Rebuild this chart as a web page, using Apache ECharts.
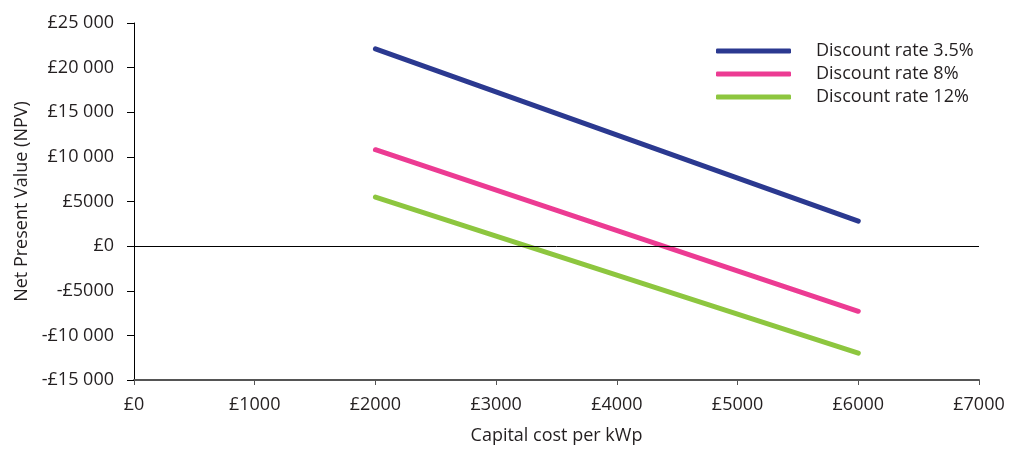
<!DOCTYPE html>
<html>
<head>
<meta charset="utf-8">
<script src="https://cdn.jsdelivr.net/npm/echarts@6/dist/echarts.min.js"></script>
<style>
  html, body { margin: 0; padding: 0; background: #fff; }
  #chart { width: 1015px; height: 450px; }
</style>
</head>
<body>
<div id="chart"></div>
<script>
// capital cost per kWp (x) and NPV for each discount rate
var capitalCost = [2000, 6000];
var npv35 = [22100, 2800];
var npv8 = [10800, -7300];
var npv12 = [5500, -12000];
var seriesNames = ['Discount rate 3.5%', 'Discount rate 8%', 'Discount rate 12%'];
var seriesColors = ['#2b3990', '#ec3b93', '#8dc63f'];

function pounds(v) {
  var sign = v < 0 ? '-' : '';
  var a = Math.abs(v);
  var s = String(a);
  if (a >= 10000) {
    s = s.slice(0, s.length - 3) + ' ' + s.slice(-3);
  }
  return sign + '£' + s;
}

function pairs(ys) {
  return capitalCost.map(function (x, i) { return [x, ys[i]]; });
}

var font = 'Open Sans';
var fs = 18;
var txt = '#231f20';

var chart = echarts.init(document.getElementById('chart'));

var option = {
  animation: false,
  grid: { left: 134, right: 36, top: 23, bottom: 70, outerBoundsMode: 'none', containLabel: false },
  legend: {
    orient: 'vertical',
    left: 711,
    top: 36,
    icon: 'roundRect',
    itemWidth: 75,
    itemHeight: 5,
    itemGap: 3,
    textStyle: { fontFamily: font, fontSize: fs, lineHeight: 20, color: txt, padding: [0, 0, 0, 20] },
    data: seriesNames
  },
  xAxis: {
    type: 'value',
    min: 0,
    max: 7000,
    interval: 1000,
    name: 'Capital cost per kWp',
    nameLocation: 'middle',
    nameGap: 47,
    nameTextStyle: { fontFamily: font, fontSize: fs, color: txt },
    axisLine: { onZero: false, lineStyle: { color: '#555', width: 2 } },
    axisTick: { show: true, length: 5, lineStyle: { color: '#555' } },
    axisLabel: { fontFamily: font, fontSize: fs, color: txt, margin: 16, formatter: pounds },
    splitLine: { show: false }
  },
  yAxis: {
    type: 'value',
    min: -15000,
    max: 25000,
    interval: 5000,
    name: 'Net Present Value (NPV)',
    nameLocation: 'middle',
    nameGap: 102,
    nameTextStyle: { fontFamily: font, fontSize: fs, color: txt },
    axisLine: { show: true, lineStyle: { color: '#000', width: 1 } },
    axisTick: { show: true, length: 7, lineStyle: { color: '#000' } },
    axisLabel: { fontFamily: font, fontSize: fs, color: txt, margin: 20, formatter: pounds },
    splitLine: { show: false }
  },
  series: [
    {
      name: seriesNames[0],
      type: 'line',
      data: pairs(npv35),
      symbol: 'none',
      lineStyle: { color: seriesColors[0], width: 5, cap: 'round' },
      itemStyle: { color: seriesColors[0] },
      markLine: {
        silent: true,
        symbol: 'none',
        label: { show: false },
        lineStyle: { color: '#000', width: 1, type: 'solid' },
        data: [{ yAxis: 0 }]
      }
    },
    {
      name: seriesNames[1],
      type: 'line',
      data: pairs(npv8),
      symbol: 'none',
      lineStyle: { color: seriesColors[1], width: 5, cap: 'round' },
      itemStyle: { color: seriesColors[1] }
    },
    {
      name: seriesNames[2],
      type: 'line',
      data: pairs(npv12),
      symbol: 'none',
      lineStyle: { color: seriesColors[2], width: 5, cap: 'round' },
      itemStyle: { color: seriesColors[2] }
    }
  ]
};

chart.setOption(option);
</script>
</body>
</html>
